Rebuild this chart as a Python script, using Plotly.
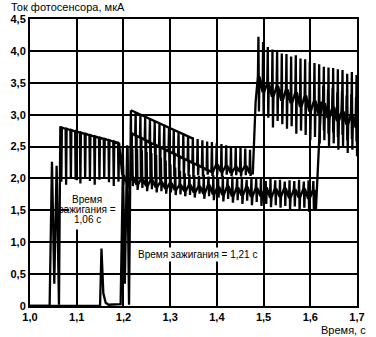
import plotly.graph_objects as go

# ---------------- axis ticks ----------------
x_ticks = [1.0, 1.1, 1.2, 1.3, 1.4, 1.5, 1.6, 1.7]
x_tick_text = ["1,0", "1,1", "1,2", "1,3", "1,4", "1,5", "1,6", "1,7"]
y_ticks = [0, 0.5, 1.0, 1.5, 2.0, 2.5, 3.0, 3.5, 4.0, 4.5]
y_tick_text = ["0", "0,5", "1,0", "1,5", "2,0", "2,5", "3,0", "3,5", "4,0", "4,5"]

# ---------------- lamp A (ignition 1,06 s) ----------------
a_pre_t = [1.000, 1.042, 1.047, 1.052, 1.057, 1.062]
a_pre_v = [0.00, 0.00, 2.26, 0.35, 2.20, 0.02]

a_t0 = 1.066
a_period = 0.0102
a_peak = [2.80, 2.78, 2.76, 2.74, 2.72, 2.70, 2.68, 2.66, 2.64, 2.62, 2.60, 2.58, 2.56,
          2.50, 2.49, 2.47, 2.46, 2.44, 2.42, 2.40, 2.37, 2.33, 2.28, 2.22, 2.17, 2.12, 2.08,
          2.06, 2.05, 2.04, 2.06, 2.03, 2.05, 2.02, 2.04, 2.00, 2.03, 2.01, 2.02, 1.98, 2.01,
          1.99, 2.00, 1.96, 1.99, 1.97, 1.98, 1.95, 1.97, 1.96, 1.98, 1.95, 1.97, 1.96]
a_trough = [1.95, 1.90, 2.00, 1.98, 1.92, 2.00, 1.96, 1.90, 1.98, 2.00, 1.94, 1.88, 1.95,
            1.90, 1.85, 1.88, 1.82, 1.85, 1.80, 1.83, 1.78, 1.80, 1.76, 1.78, 1.74, 1.75, 1.72,
            1.74, 1.70, 1.76, 1.68, 1.72, 1.66, 1.70, 1.64, 1.68, 1.62, 1.66, 1.60, 1.65, 1.58,
            1.63, 1.57, 1.60, 1.55, 1.58, 1.54, 1.57, 1.52, 1.56, 1.50, 1.54, 1.48, 1.52]
a_base = [2.80, 2.78, 2.76, 2.74, 2.72, 2.70, 2.68, 2.66, 2.64, 2.62, 2.60, 2.58, 2.56,
          2.05, 1.92, 2.02, 1.90, 2.00, 1.88, 1.98, 1.86, 1.95, 1.84, 1.93, 1.82, 1.90, 1.80,
          1.90, 1.78, 1.88, 1.76, 1.90, 1.75, 1.87, 1.74, 1.88, 1.72, 1.86, 1.73, 1.87, 1.71,
          1.85, 1.72, 1.86, 1.70, 1.84, 1.71, 1.85, 1.69, 1.83, 1.70, 1.84, 1.68, 1.82]
a_jump_t = [1.612, 1.623]
a_jump_v = [1.50, 3.20]
a2_t0 = 1.628
a2_period = 0.0100
a2_peak = [3.45, 3.40, 3.42, 3.35, 3.38, 3.30, 3.32, 3.28]
a2_trough = [2.75, 2.70, 2.72, 2.65, 2.68, 2.60, 2.62, 2.58]
a2_base = [3.15, 2.95, 3.10, 2.90, 3.05, 2.85, 3.00, 2.80]

# ---------------- lamp B (ignition 1,21 s) ----------------
b_pre_t = [1.000, 1.150, 1.153, 1.157, 1.162, 1.168, 1.194, 1.199, 1.203, 1.208, 1.212]
b_pre_v = [0.00, 0.00, 0.90, 0.20, 0.05, 0.02, 0.03, 2.20, 0.35, 2.52, 0.02]

b_t0 = 1.216
b_period = 0.0102
b_peak = [3.07, 3.04, 3.00, 2.97, 2.94, 2.90, 2.87, 2.84, 2.80, 2.77, 2.74, 2.70, 2.67, 2.64,
          2.62, 2.60, 2.58, 2.57, 2.55, 2.54, 2.52, 2.51, 2.49, 2.48, 2.47, 2.45]
b_trough = [1.98, 2.00, 1.96, 2.02, 1.98, 2.00, 1.97, 2.02, 1.99, 2.03, 2.00, 2.02, 2.04,
            2.02, 2.05, 2.03, 2.06, 2.04, 2.05, 2.03, 2.06, 2.04, 2.05, 2.03, 2.05, 2.04]
b_base = [2.71, 2.67, 2.64, 2.60, 2.56, 2.53, 2.49, 2.46, 2.42, 2.39, 2.35, 2.31, 2.28,
          2.24, 2.21, 2.17, 2.13, 2.10, 2.22, 2.10, 2.20, 2.09, 2.18, 2.10, 2.20, 2.08]
b_env_t = [1.216, 1.350]
b_env_v = [3.07, 2.62]
b_jump_t = [1.477, 1.483]
b_jump_v = [2.08, 3.20]
b2_t0 = 1.489
b2_period = 0.0100
b2_peak = [4.22, 4.14, 4.06, 4.02, 3.99, 3.96, 3.95, 3.91, 3.93, 3.88, 3.87, 3.83, 3.81,
           3.79, 3.75, 3.74, 3.73, 3.71, 3.70, 3.64, 3.67, 3.62]
b2_trough = [3.05, 3.00, 2.95, 2.80, 2.90, 2.85, 2.78, 2.82, 2.70, 2.75, 2.68, 2.60, 2.65,
             2.55, 2.60, 2.50, 2.55, 2.45, 2.50, 2.40, 2.45, 2.35]
b2_base = [3.60, 3.35, 3.50, 3.28, 3.45, 3.22, 3.40, 3.18, 3.35, 3.12, 3.30, 3.05, 3.22,
           3.00, 3.18, 2.95, 3.12, 2.90, 3.05, 2.85, 3.00, 2.80]

# ---------------- labels ----------------
y_title = "Ток фотосенсора, мкА"
x_title = "Время, с"
note_a = ["Время", "зажигания =", "1,06 с"]
note_b = "Время зажигания = 1,21 с"


def cycles(t0, period, peaks, troughs, bases, h=0.0011):
    xs, ys = [], []
    for i, (p, tr, b) in enumerate(zip(peaks, troughs, bases)):
        t = t0 + i * period
        xs += [t - h, t, t + h, t + 2 * h]
        ys += [b, p, tr, b]
    return xs, ys


ax1, ay1 = cycles(a_t0, a_period, a_peak, a_trough, a_base)
ax2, ay2 = cycles(a2_t0, a2_period, a2_peak, a2_trough, a2_base)
a_x = a_pre_t + ax1 + a_jump_t + ax2
a_y = a_pre_v + ay1 + a_jump_v + ay2

bx1, by1 = cycles(b_t0, b_period, b_peak, b_trough, b_base)
bx2, by2 = cycles(b2_t0, b2_period, b2_peak, b2_trough, b2_base)
b_x = b_pre_t + bx1 + b_jump_t + bx2
b_y = b_pre_v + by1 + b_jump_v + by2

FONT = "Liberation Sans, Arial, sans-serif"
line_style = dict(color="black", width=2.3)

fig = go.Figure()
fig.add_trace(go.Scatter(x=a_x, y=a_y, mode="lines", line=line_style, hoverinfo="skip"))
fig.add_trace(go.Scatter(x=b_x, y=b_y, mode="lines", line=line_style, hoverinfo="skip"))
fig.add_trace(go.Scatter(x=b_env_t, y=b_env_v, mode="lines", line=line_style, hoverinfo="skip"))

# white patch hiding gridlines behind the first note (between grid and data)
fig.add_shape(type="rect", xref="x", yref="y", x0=1.084, x1=1.196, y0=1.2, y1=1.97,
              fillcolor="white", line=dict(width=0), layer="between")

for txt, yv in zip(note_a, [1.677, 1.512, 1.356]):
    fig.add_annotation(x=1.123, y=yv, xref="x", yref="y", text=txt, showarrow=False,
                       font=dict(family=FONT, size=10, color="black"))
fig.add_annotation(x=1.358, y=0.80, xref="x", yref="y", text=note_b, showarrow=False,
                   font=dict(family=FONT, size=10, color="black"), bgcolor="white", borderpad=1)

fig.add_annotation(x=0, y=1, xref="paper", yref="paper", xanchor="left", yanchor="bottom",
                   xshift=-21, yshift=4, text=y_title, showarrow=False,
                   font=dict(family=FONT, size=11, color="black"))
fig.add_annotation(x=1, y=0, xref="paper", yref="paper", xanchor="right", yanchor="top",
                   xshift=11, yshift=-16, text=x_title, showarrow=False,
                   font=dict(family=FONT, size=11, color="black"))

axis_common = dict(showgrid=True, gridcolor="black", gridwidth=2, zeroline=False,
                   showline=True, linecolor="black", linewidth=2, mirror=True,
                   ticks="", tickfont=dict(family=FONT, size=11, color="black", weight="bold"))
fig.update_xaxes(range=[1.0, 1.7], tickvals=x_ticks, ticktext=x_tick_text, **axis_common)
fig.update_yaxes(range=[0, 4.5], tickvals=y_ticks, ticktext=y_tick_text, **axis_common)

fig.update_layout(width=376, height=337, margin=dict(l=22, r=11, t=19, b=31),
                  paper_bgcolor="white", plot_bgcolor="white", showlegend=False,
                  font=dict(family=FONT))

fig.write_html("out.html")
